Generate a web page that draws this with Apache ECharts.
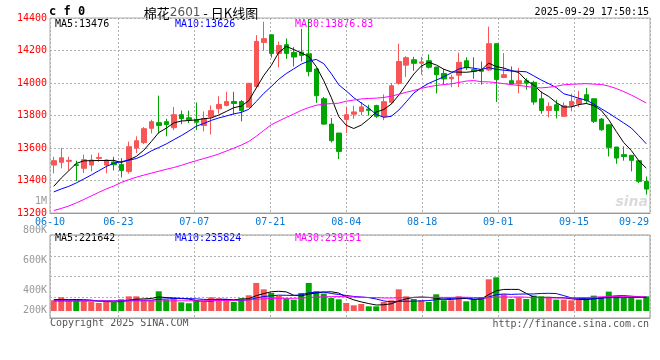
<!DOCTYPE html>
<html><head><meta charset="utf-8">
<script src="https://cdn.jsdelivr.net/npm/echarts@6/dist/echarts.min.js"></script>
<style>html,body{margin:0;padding:0;background:#fff}#c{width:660px;height:360px}</style>
</head><body><div id="c"></div>
<script>
const dates = ['06-10','06-11','06-12','06-13','06-16','06-17','06-18','06-19','06-20','06-23','06-24','06-25','06-26','06-27','06-30',
'07-01','07-02','07-03','07-04','07-07','07-08','07-09','07-10','07-11','07-14','07-15','07-16','07-17','07-18','07-21','07-22','07-23','07-24','07-25','07-28','07-29','07-30','07-31',
'08-01','08-04','08-05','08-06','08-07','08-08','08-11','08-12','08-13','08-14','08-15','08-18','08-19','08-20','08-21','08-22','08-25','08-26','08-27','08-28','08-29',
'09-01','09-02','09-03','09-04','09-05','09-08','09-09','09-10','09-11','09-12','09-15','09-16','09-17','09-18','09-19','09-22','09-23','09-24','09-25','09-26','09-29'];

const openP = [13495,13512,13518,13497,13475,13495,13536,13495,13514,13499,13456,13600,13633,13721,13756,13762,13725,13805,13786,13773,
13739,13792,13842,13862,13886,13886,13851,13978,14250,14297,14182,14236,14188,14190,14180,14086,13903,13747,13692,13776,
13808,13825,13840,13861,13793,13881,13998,14110,14143,14122,14137,14098,14059,14026,14048,14137,14082,14082,14080,14242,
14034,14014,13994,14014,14004,13903,13831,13866,13795,13860,13872,13928,13903,13778,13743,13606,13559,13555,13522,13395];
const closeP = [13522,13540,13524,13493,13528,13526,13542,13526,13497,13462,13608,13645,13719,13762,13739,13745,13805,13781,13774,13759,
13782,13830,13868,13886,13874,13830,13998,14256,14273,14182,14231,14182,14160,14170,14071,13922,13747,13645,13579,13805,
13822,13853,13832,13795,13885,13983,14132,14156,14121,14130,14097,14051,14025,14035,14127,14094,14073,14072,14242,14022,
14051,13994,14014,13999,13883,13831,13856,13831,13860,13887,13901,13891,13764,13712,13604,13538,13548,13524,13395,13347];
const lowP = [13444,13475,13462,13397,13446,13456,13514,13444,13462,13419,13442,13569,13624,13690,13690,13672,13710,13746,13754,13710,
13702,13683,13812,13856,13805,13764,13850,13974,14200,14156,14096,14148,14102,14133,14041,13877,13743,13634,13532,13692,
13780,13801,13799,13784,13771,13868,13990,14036,14075,14051,14089,13936,13990,13974,13975,14080,14026,13990,14075,13883,
14030,13989,13938,13959,13866,13811,13788,13782,13795,13825,13852,13872,13754,13706,13548,13503,13522,13456,13384,13313];
const highP = [13546,13600,13546,13522,13559,13559,13571,13532,13546,13538,13639,13672,13729,13774,13922,13780,13853,13831,13830,13880,
13825,13862,13918,13946,13946,13895,13998,14295,14377,14297,14255,14274,14221,14334,14390,14092,13914,13784,13692,13852,
13860,13883,13866,13866,13930,14000,14242,14165,14161,14161,14175,14098,14086,14051,14187,14158,14158,14132,14347,14242,
14184,14102,14092,14030,14014,13948,13881,13897,13881,13934,13952,13969,13903,13784,13743,13606,13610,13555,13522,13425];

const ma5 = [13364,13415,13460,13505,13521,13522,13523,13523,13524,13511,13527,13548,13586,13639,13695,13722,13754,13766,13769,13773,
13780,13785,13803,13825,13848,13858,13891,13969,14046,14108,14188,14225,14206,14185,14163,14101,14014,13911,13793,13740,
13720,13741,13778,13821,13837,13870,13925,13990,14055,14104,14127,14111,14085,14068,14067,14066,14071,14080,14122,14101,
14092,14076,14065,14016,13988,13944,13917,13880,13852,13853,13867,13874,13861,13831,13774,13702,13633,13585,13522,13476];
const ma10 = [13330,13348,13364,13385,13409,13434,13460,13486,13506,13516,13525,13535,13555,13582,13603,13625,13651,13676,13704,13734,
13751,13770,13785,13797,13810,13819,13838,13886,13936,13978,14023,14058,14087,14116,14135,14145,14119,14058,13989,13951,
13910,13877,13845,13807,13789,13795,13833,13884,13938,13971,13998,14018,14038,14062,14086,14097,14091,14083,14095,14084,
14079,14074,14072,14069,14044,14018,13996,13972,13934,13921,13906,13895,13870,13842,13814,13784,13754,13723,13676,13626];
const ma30 = [13215,13228,13243,13262,13283,13305,13327,13348,13366,13388,13405,13420,13433,13445,13457,13469,13480,13493,13508,13522,
13535,13548,13563,13581,13599,13618,13640,13672,13708,13743,13766,13788,13809,13831,13849,13863,13870,13873,13876,13888,
13895,13902,13905,13907,13911,13919,13930,13943,13954,13967,13977,13985,13990,13995,14003,14012,14015,14008,14007,14002,
13996,13990,13985,13979,13973,13970,13974,13980,13989,13992,13994,13996,13993,13991,13981,13966,13947,13926,13902,13876.83];

const volume = [179000,229000,179000,190000,162000,150000,134000,162000,145000,195000,245000,245000,179000,179000,329000,190000,212000,145000,129000,179000,
150000,229000,212000,190000,150000,212000,262000,468000,362000,301000,251000,212000,190000,301000,468000,329000,291000,217000,195000,134000,
95000,117000,78000,78000,150000,179000,362000,245000,200000,179000,150000,279000,179000,179000,245000,162000,195000,234000,529000,563000,
279000,200000,229000,200000,257000,245000,217000,190000,190000,179000,190000,200000,257000,234000,324000,245000,217000,217000,190000,245000];
const volMa5 = [190000,190000,190000,190000,188000,182000,163000,160000,151000,157000,176000,198000,202000,209000,235000,224000,218000,211000,201000,171000,
163000,166000,180000,192000,186000,199000,205000,256000,291000,321000,329000,319000,263000,251000,284000,300000,316000,321000,300000,233000,
186000,152000,124000,100000,104000,120000,169000,203000,227000,233000,227000,211000,197000,193000,206000,209000,192000,203000,273000,337000,
360000,361000,360000,294000,233000,226000,230000,222000,220000,204000,193000,190000,203000,212000,241000,252000,255000,247000,239000,221642];
const volMa10 = [170000,170000,170000,170000,170000,170000,170000,170000,170000,173000,179000,181000,181000,180000,196000,200000,208000,206000,205000,203000,
194000,192000,195000,197000,179000,181000,186000,218000,241000,254000,264000,262000,260000,271000,303000,314000,317000,292000,276000,259000,
243000,234000,223000,200000,168000,153000,161000,163000,164000,168000,174000,190000,200000,210000,220000,218000,201000,200000,233000,272000,
284000,277000,282000,284000,285000,293000,295000,291000,257000,219000,210000,210000,213000,216000,223000,223000,223000,225000,225000,235824];
const volMa30 = [167000,167000,167000,167000,167000,167000,167000,167000,167000,167000,167000,167000,167000,167000,167000,167000,170000,170000,170000,170000,
170000,175000,175000,175000,175000,185000,185000,195000,203000,210000,212000,212000,212000,216000,226000,232000,237000,239000,241000,239000,
234000,229000,226000,223000,217000,216000,221000,225000,227000,227000,227000,229000,227000,227000,230000,229000,226000,219000,224000,233000,
234000,233000,235000,231000,224000,222000,219000,218000,218000,219000,223000,225000,231000,237000,242000,245000,240000,239000,238000,239151];

const dateTickIdx = [0,9,19,29,39,49,59,69,79];
const priceMin = 13200, priceMax = 14400, priceStep = 200;
const volMin = -117000, volMax = 1269000, volStep = 346500;
const volTickLabels = ['1M','800K','600K','400K','200K'];
const volTickY = [201,230,260,290,310];
const priceLegend = ['MA5:13476','MA10:13626','MA30:13876.83'];
const volLegend = ['MA5:221642','MA10:235824','MA30:239151'];
const legendColors = ['#000000','#0000ff','#ff00ff'];
const legendX = [55,175,295];

const RED = '#f85656', GREEN = '#00a600';
const MONO = 'DejaVu Sans Mono';
const GRIDC = '#b0b0b0';
const tickFn = (idx) => dateTickIdx.indexOf(idx) >= 0;

const chart = echarts.init(document.getElementById('c'), null, {renderer:'canvas'});

const graphics = [];
graphics.push({type:'text', x:49, y:12, style:{text:'c f 0', font:'bold 12px "DejaVu Sans Mono"', fill:'#000', textVerticalAlign:'middle'}});
graphics.push({type:'text', x:201, y:13, style:{text:'{a|棉花}{b|2601}{a| - 日K线图}', textAlign:'center', textVerticalAlign:'middle',
  rich:{a:{fontFamily:'Noto Sans CJK SC', fontSize:13, fill:'#000'}, b:{fontFamily:'DejaVu Sans', fontSize:12, fill:'#555'}}}});
graphics.push({type:'text', x:649, y:12, style:{text:'2025-09-29 17:50:15', font:'10px "DejaVu Sans Mono"', fill:'#000', textAlign:'right', textVerticalAlign:'middle'}});
priceLegend.forEach((t,k)=>graphics.push({type:'text', x:legendX[k], y:24, style:{text:t, font:'10px "DejaVu Sans Mono"', fill:legendColors[k], textVerticalAlign:'middle'}}));
volLegend.forEach((t,k)=>graphics.push({type:'text', x:legendX[k], y:238.5, style:{text:t, font:'10px "DejaVu Sans Mono"', fill:legendColors[k], textVerticalAlign:'middle'}}));
volTickLabels.forEach((t,k)=>graphics.push({type:'text', x:47, y:volTickY[k], style:{text:t, font:'10px "DejaVu Sans Mono"', fill:'#999', textAlign:'right', textVerticalAlign:'middle'}}));
graphics.push({type:'text', x:50, y:323, style:{text:'Copyright 2025 SINA.COM', font:'10px "DejaVu Sans Mono"', fill:'#555', textVerticalAlign:'middle'}});
graphics.push({type:'text', x:649, y:324, style:{text:'http://finance.sina.com.cn', font:'10px "DejaVu Sans Mono"', fill:'#555', textAlign:'right', textVerticalAlign:'middle'}});
graphics.push({type:'text', x:648, y:202, z:0, style:{text:'sina', font:'italic bold 14px "DejaVu Sans"', fill:'rgba(190,190,190,0.55)', textAlign:'right', textVerticalAlign:'middle'}});

const hiddenCat = (grid, pos) => ({type:'category', gridIndex:grid, data:dates, boundaryGap:true, position:pos,
  axisLine:{show:false}, axisTick:{show:false}, axisLabel:{show:false}, splitLine:{show:false}});

const option = {
  animation:false,
  backgroundColor:'#fff',
  graphic: graphics,
  grid:[
    {left:50, top:18, width:600, height:195, show:true, borderColor:'#aaa', borderWidth:1},
    {left:50, top:235, width:600, height:83, show:true, borderColor:'#999', borderWidth:1}
  ],
  xAxis:[
    hiddenCat(0,'top'),
    {type:'category', gridIndex:0, data:dates, boundaryGap:false, position:'bottom',
      axisLine:{show:true, lineStyle:{color:'#999'}}, axisTick:{show:false},
      axisLabel:{show:true, interval:tickFn, color:'#0a78d2', fontFamily:MONO, fontSize:10, margin:4,
        formatter:(v,idx)=> idx===dates.length-1 ? '{r|'+v+'}' : v,
        rich:{r:{padding:[0,32,0,0], color:'#0a78d2', fontFamily:MONO, fontSize:10}}},
      splitLine:{show:true, interval:tickFn, lineStyle:{color:GRIDC, type:[2,2], width:1}}},
    hiddenCat(1,'top'),
    {type:'category', gridIndex:1, data:dates, boundaryGap:false, position:'bottom',
      axisLine:{show:true, lineStyle:{color:'#999'}}, axisTick:{show:false}, axisLabel:{show:false},
      splitLine:{show:true, interval:tickFn, lineStyle:{color:GRIDC, type:[2,2], width:1}}}
  ],
  yAxis:[
    {type:'value', gridIndex:0, min:priceMin, max:priceMax, interval:priceStep, scale:true,
      axisLine:{show:false}, axisTick:{show:false},
      axisLabel:{color:'#ff0000', fontFamily:MONO, fontSize:10, margin:3, padding:[0,0,4,0], formatter:(v)=>String(v)},
      splitLine:{show:true, lineStyle:{color:GRIDC, type:[2,2], width:1}}},
    {type:'value', gridIndex:1, min:volMin, max:volMax, interval:volStep,
      axisLine:{show:false}, axisTick:{show:false}, axisLabel:{show:false},
      splitLine:{show:true, lineStyle:{color:GRIDC, type:[2,2], width:1}}}
  ],
  series:[
    {type:'candlestick', xAxisIndex:0, yAxisIndex:0, barWidth:5,
      data: dates.map((d,i)=>[openP[i], closeP[i], lowP[i], highP[i]]),
      itemStyle:{color:RED, color0:GREEN, borderColor:RED, borderColor0:GREEN, borderWidth:1}, z:2},
    {type:'line', xAxisIndex:0, yAxisIndex:0, data:ma5, symbol:'none', lineStyle:{color:'#000', width:1}, z:5},
    {type:'line', xAxisIndex:0, yAxisIndex:0, data:ma10, symbol:'none', lineStyle:{color:'#0000ff', width:1}, z:5},
    {type:'line', xAxisIndex:0, yAxisIndex:0, data:ma30, symbol:'none', lineStyle:{color:'#ff00ff', width:1}, z:5},
    {type:'bar', xAxisIndex:2, yAxisIndex:1, barWidth:6,
      data: volume.map((v,i)=>({value:v, itemStyle:{color: closeP[i] >= openP[i] ? RED : GREEN}})), z:2},
    {type:'line', xAxisIndex:2, yAxisIndex:1, data:volMa5, symbol:'none', lineStyle:{color:'#000', width:1}, z:5},
    {type:'line', xAxisIndex:2, yAxisIndex:1, data:volMa10, symbol:'none', lineStyle:{color:'#0000ff', width:1}, z:5},
    {type:'line', xAxisIndex:2, yAxisIndex:1, data:volMa30, symbol:'none', lineStyle:{color:'#ff00ff', width:1}, z:5}
  ]
};
chart.setOption(option);
</script>
</body></html>
